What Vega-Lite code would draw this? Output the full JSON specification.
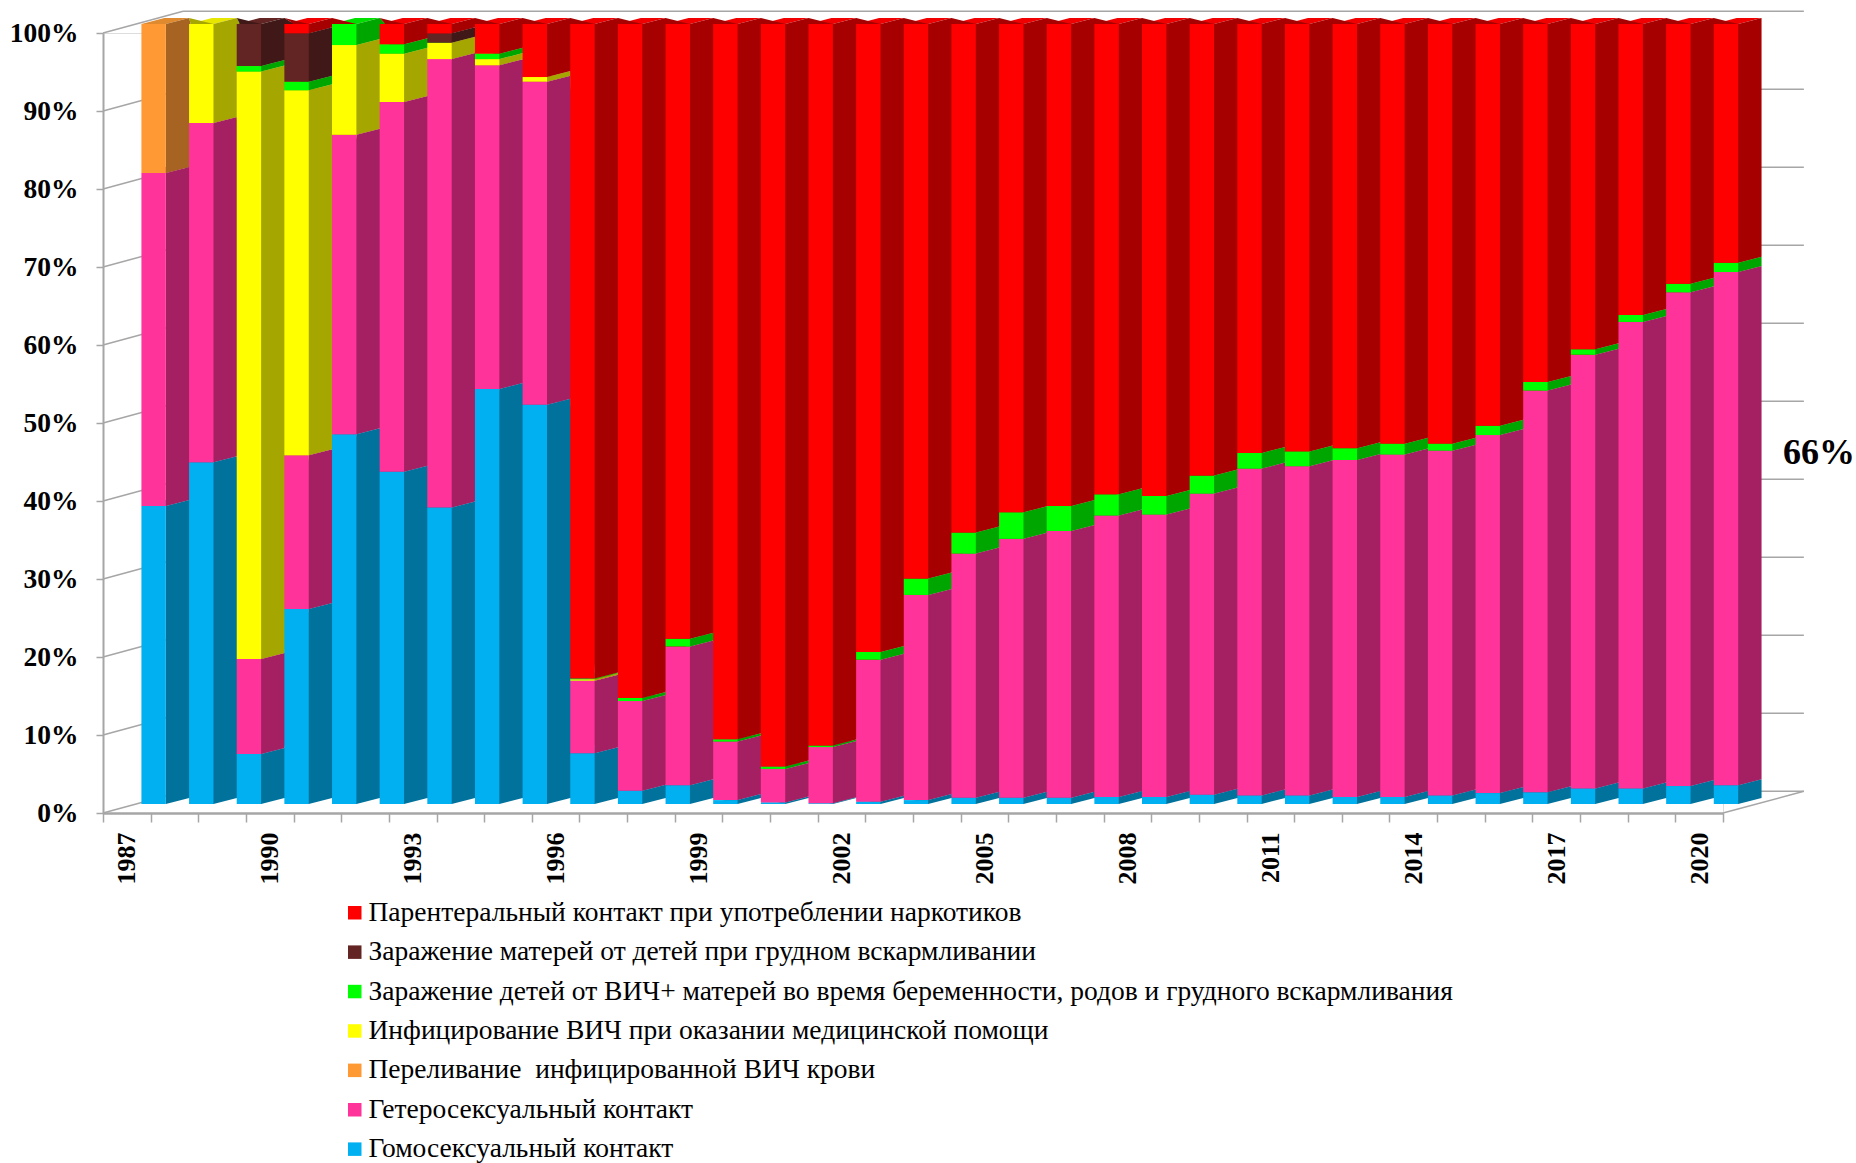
{"$schema":"https://vega.github.io/schema/vega-lite/v6.json","width":1620,"height":780,"autosize":{"type":"none"},"padding":{"left":103,"top":33,"right":133,"bottom":350},"background":"white",
"datasets":{"seriesInfo":[{"code":"H","name":"Гомосексуальный контакт","rank":1},{"code":"G","name":"Гетеросексуальный контакт","rank":2},{"code":"T","name":"Переливание\u00a0 инфицированной ВИЧ крови","rank":3},{"code":"M","name":"Инфицирование ВИЧ при оказании медицинской помощи","rank":4},{"code":"K","name":"Заражение детей от ВИЧ+ матерей во время беременности, родов и грудного вскармливания","rank":5},{"code":"B","name":"Заражение матерей от детей при грудном вскармливании","rank":6},{"code":"P","name":"Парентеральный контакт при употреблении наркотиков","rank":7}],
"levels":[{"level":0},{"level":10},{"level":20},{"level":30},{"level":40},{"level":50},{"level":60},{"level":70},{"level":80},{"level":90},{"level":100}]},
"data":{"values":[
{"year":1987,"H":38.2,"G":42.7,"T":19.1,"M":0,"K":0,"B":0,"P":0},
{"year":1988,"H":43.8,"G":43.5,"T":0,"M":12.7,"K":0,"B":0,"P":0},
{"year":1989,"H":6.4,"G":12.2,"T":0,"M":75.3,"K":0.7,"B":5.4,"P":0},
{"year":1990,"H":25,"G":19.7,"T":0,"M":46.8,"K":1.1,"B":6.2,"P":1.2},
{"year":1991,"H":47.4,"G":38.4,"T":0,"M":11.5,"K":2.7,"B":0,"P":0},
{"year":1992,"H":42.6,"G":47.4,"T":0,"M":6.2,"K":1.2,"B":0,"P":2.6},
{"year":1993,"H":38,"G":57.5,"T":0,"M":2.1,"K":0,"B":1.2,"P":1.2},
{"year":1994,"H":53.2,"G":41.5,"T":0,"M":0.8,"K":0.7,"B":0,"P":3.8},
{"year":1995,"H":51.2,"G":41.4,"T":0,"M":0.6,"K":0,"B":0,"P":6.8},
{"year":1996,"H":6.5,"G":9.3,"T":0,"M":0.2,"K":0.1,"B":0,"P":83.9},
{"year":1997,"H":1.7,"G":11.5,"T":0,"M":0,"K":0.4,"B":0,"P":86.4},
{"year":1998,"H":2.4,"G":17.8,"T":0,"M":0,"K":1,"B":0,"P":78.8},
{"year":1999,"H":0.5,"G":7.5,"T":0,"M":0,"K":0.3,"B":0,"P":91.7},
{"year":2000,"H":0.2,"G":4.3,"T":0,"M":0,"K":0.3,"B":0,"P":95.2},
{"year":2001,"H":0.1,"G":7.2,"T":0,"M":0,"K":0.2,"B":0,"P":92.5},
{"year":2002,"H":0.3,"G":18.2,"T":0,"M":0,"K":1,"B":0,"P":80.5},
{"year":2003,"H":0.5,"G":26.3,"T":0,"M":0,"K":2.1,"B":0,"P":71.1},
{"year":2004,"H":0.8,"G":31.3,"T":0,"M":0,"K":2.7,"B":0,"P":65.2},
{"year":2005,"H":0.8,"G":33.2,"T":0,"M":0,"K":3.4,"B":0,"P":62.6},
{"year":2006,"H":0.8,"G":34.2,"T":0,"M":0,"K":3.2,"B":0,"P":61.8},
{"year":2007,"H":0.9,"G":36.1,"T":0,"M":0,"K":2.7,"B":0,"P":60.3},
{"year":2008,"H":0.9,"G":36.2,"T":0,"M":0,"K":2.4,"B":0,"P":60.5},
{"year":2009,"H":1.2,"G":38.6,"T":0,"M":0,"K":2.3,"B":0,"P":57.9},
{"year":2010,"H":1.1,"G":41.9,"T":0,"M":0,"K":2,"B":0,"P":55},
{"year":2011,"H":1.1,"G":42.2,"T":0,"M":0,"K":1.9,"B":0,"P":54.8},
{"year":2012,"H":0.9,"G":43.2,"T":0,"M":0,"K":1.5,"B":0,"P":54.4},
{"year":2013,"H":0.9,"G":43.9,"T":0,"M":0,"K":1.4,"B":0,"P":53.8},
{"year":2014,"H":1.1,"G":44.2,"T":0,"M":0,"K":0.9,"B":0,"P":53.8},
{"year":2015,"H":1.4,"G":45.9,"T":0,"M":0,"K":1.2,"B":0,"P":51.5},
{"year":2016,"H":1.5,"G":51.5,"T":0,"M":0,"K":1.1,"B":0,"P":45.9},
{"year":2017,"H":2,"G":55.6,"T":0,"M":0,"K":0.7,"B":0,"P":41.7},
{"year":2018,"H":2,"G":59.8,"T":0,"M":0,"K":0.9,"B":0,"P":37.3},
{"year":2019,"H":2.3,"G":63.3,"T":0,"M":0,"K":1.1,"B":0,"P":33.3},
{"year":2020,"H":2.4,"G":65.8,"T":0,"M":0,"K":1.2,"B":0,"P":30.6}
]},
"transform":[{"fold":["H","G","T","M","K","B","P"],"as":["code","value"]},{"lookup":"code","from":{"data":{"name":"seriesInfo"},"key":"code","fields":["name","rank"]}}],
"encoding":{
"x":{"field":"year","type":"ordinal","title":null,"scale":{"type":"band","paddingInner":0,"paddingOuter":0},"axis":{"tickBand":"extent","labelAngle":-90,"labelAlign":"right","labelBaseline":"middle","labelPadding":10,"tickSize":9,"tickWidth":1.5,"tickColor":"#a6a6a6","domainColor":"#a6a6a6","domainWidth":2.5,"labelFont":"Liberation Serif","labelFontWeight":"bold","labelFontSize":26,"labelColor":"black","labelOverlap":false,"labelBound":false,"labelExpr":"(datum.value-1987)%3==0?datum.label:''"}},
"y":{"field":"value","type":"quantitative","stack":"zero","title":null,"scale":{"domain":[0,100],"nice":false},"axis":{"values":[0,10,20,30,40,50,60,70,80,90,100],"grid":false,"tickSize":7,"tickWidth":1.5,"tickColor":"#a6a6a6","domainColor":"#a6a6a6","domainWidth":2,"labelPadding":18,"labelFont":"Liberation Serif","labelFontWeight":"bold","labelFontSize":27.5,"labelColor":"black","labelExpr":"datum.value+'%'"}}
},
"layer":[
{"data":{"name":"levels"},"transform":[],"mark":{"type":"rule","color":"#a6a6a6","strokeWidth":1.5,"xOffset":56.2,"x2Offset":104.7,"yOffset":-21.7,"y2Offset":-21.7},"encoding":{"x":{"datum":1987,"type":"ordinal","title":null},"x2":{"datum":2020},"y":{"field":"level","type":"quantitative","title":null},"y2":{"field":"level"}}},
{"data":{"name":"levels"},"transform":[],"mark":{"type":"rule","color":"#a6a6a6","strokeWidth":1.5,"xOffset":-23.8,"x2Offset":56.2,"yOffset":0,"y2Offset":-21.7},"encoding":{"x":{"datum":1987,"type":"ordinal","title":null},"x2":{"datum":1987},"y":{"field":"level","type":"quantitative","title":null},"y2":{"field":"level"}}},
{"data":{"values":[{"level":0}]},"transform":[],"mark":{"type":"rule","color":"#a6a6a6","strokeWidth":1.5,"xOffset":23.8,"x2Offset":104.7,"yOffset":0,"y2Offset":-21.7},"encoding":{"x":{"datum":2020,"type":"ordinal","title":null},"x2":{"datum":2020},"y":{"field":"level","type":"quantitative","title":null},"y2":{"field":"level"}}},
{"transform":[{"filter":"datum.value>0"}],"mark":{"type":"point","filled":true,"opacity":1,"size":4,"strokeWidth":0,"shape":"M0,0L24.5,0L47.5,-6L23,-6Z","xOffset":14.6,"yOffset":-9},"encoding":{"order":{"field":"rank"},"color":{"field":"name","type":"nominal","legend":null,"scale":{"domain":["Парентеральный контакт при употреблении наркотиков","Заражение матерей от детей при грудном вскармливании","Заражение детей от ВИЧ+ матерей во время беременности, родов и грудного вскармливания","Инфицирование ВИЧ при оказании медицинской помощи","Переливание\u00a0 инфицированной ВИЧ крови","Гетеросексуальный контакт","Гомосексуальный контакт"],"range":["#F00000","#632523","#00E000","#E6E600","#E08A30","#E0308A","#00A0DC"]}}}},
{"transform":[{"stack":"value","groupby":["year"],"sort":[{"field":"rank","order":"ascending"}],"as":["base","top"]},{"fold":["near","far"],"as":["edge","unused"]},{"calculate":"datum.edge=='near'?1.154:1.923","as":"lift"},{"calculate":"datum.top+datum.lift","as":"faceTop"},{"calculate":"datum.base+datum.lift","as":"faceBase"}],"mark":{"type":"area","opacity":1},"encoding":{"xOffset":{"field":"edge","type":"nominal","scale":{"type":"point","padding":0,"domain":["near","far"],"range":[62.8,86.2]}},"y":{"field":"faceTop","type":"quantitative","stack":null,"title":null},"y2":{"field":"faceBase"},"color":{"field":"name","type":"nominal","legend":null,"scale":{"domain":["Парентеральный контакт при употреблении наркотиков","Заражение матерей от детей при грудном вскармливании","Заражение детей от ВИЧ+ матерей во время беременности, родов и грудного вскармливания","Инфицирование ВИЧ при оказании медицинской помощи","Переливание\u00a0 инфицированной ВИЧ крови","Гетеросексуальный контакт","Гомосексуальный контакт"],"range":["#A60000","#401817","#00A600","#A6A600","#A66321","#A52063","#00729C"]}}}},
{"mark":{"type":"bar","width":24.4,"xOffset":26.8,"yOffset":-9,"y2Offset":-9},"encoding":{"order":{"field":"rank"},"color":{"field":"name","type":"nominal","scale":{"domain":["Парентеральный контакт при употреблении наркотиков","Заражение матерей от детей при грудном вскармливании","Заражение детей от ВИЧ+ матерей во время беременности, родов и грудного вскармливания","Инфицирование ВИЧ при оказании медицинской помощи","Переливание\u00a0 инфицированной ВИЧ крови","Гетеросексуальный контакт","Гомосексуальный контакт"],"range":["#FF0000","#632523","#00FF00","#FFFF00","#FF9933","#FF3399","#00B0F0"]},"legend":{"orient":"none","legendX":238,"legendY":866,"title":null,"symbolType":"square","symbolSize":182,"symbolStrokeWidth":0,"symbolOpacity":1,"labelFont":"Liberation Serif","labelFontSize":27.5,"labelColor":"black","labelLimit":1200,"rowPadding":10.4,"labelOffset":0,"columns":1}}}},
{"data":{"values":[{"label":"66%","year":2020,"share":46.1}]},"transform":[],"mark":{"type":"text","xOffset":119.7,"font":"Liberation Serif","fontWeight":"bold","fontSize":36,"color":"black","align":"center","baseline":"middle"},"encoding":{"x":{"field":"year","type":"ordinal","title":null},"y":{"field":"share","type":"quantitative","stack":null,"title":null},"text":{"field":"label","type":"nominal"}}}
],
"resolve":{"scale":{"color":"independent"}}
}
